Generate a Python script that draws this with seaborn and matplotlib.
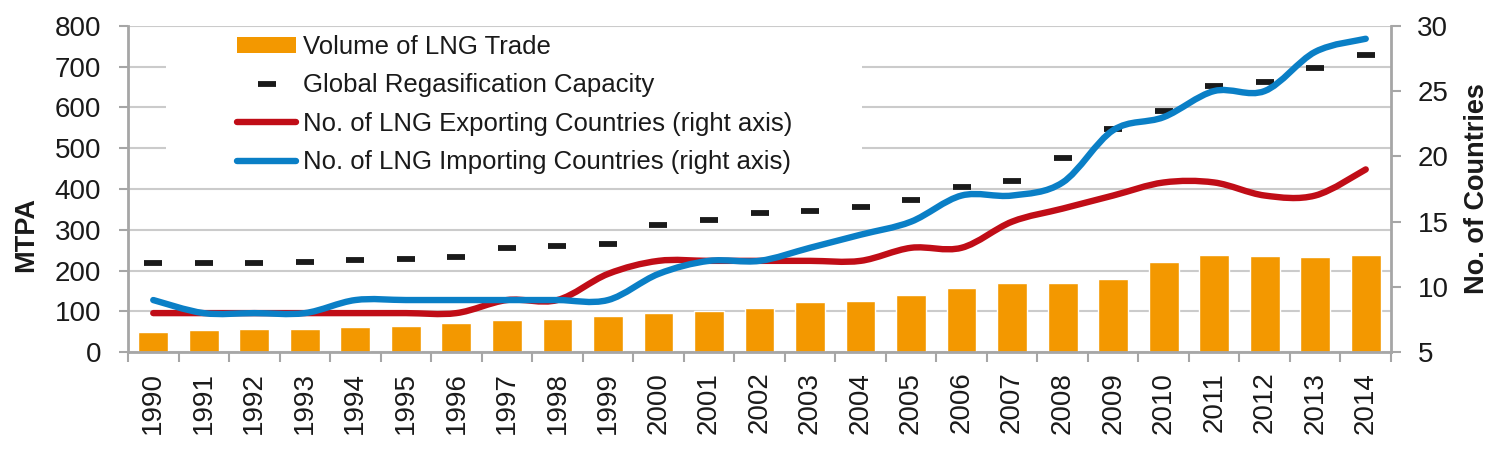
import numpy as np
import pandas as pd
import seaborn as sns
import matplotlib.pyplot as plt
from matplotlib.path import Path
from matplotlib.patches import PathPatch, Patch, Rectangle
from matplotlib.lines import Line2D

# data
years = [str(y) for y in range(1990, 2015)]
lng_trade = [50, 54, 56, 58, 61, 64, 72, 79, 81, 89, 97, 100, 108, 122, 126,
             140, 157, 169, 170, 180, 220, 238, 235, 234, 238]
regas_capacity = [219, 219, 219, 220, 226, 228, 234, 256, 261, 266, 313, 323, 340,
                  346, 356, 374, 406, 420, 476, 548, 590, 652, 662, 697, 728]
exporters = [8, 8, 8, 8, 8, 8, 8, 9, 9, 11, 12, 12, 12, 12, 12, 13, 13, 15, 16,
             17, 18, 18, 17, 17, 19]
importers = [9, 8, 8, 8, 9, 9, 9, 9, 9, 9, 11, 12, 12, 13, 14, 15, 17, 17, 18,
             22, 23, 25, 25, 28, 29]

ORANGE = "#F39800"
RED = "#C00D17"
BLUE = "#0A7FC6"
DARK = "#1A1A1A"
GRAY = "#A6A6A6"
GRID = "#CBCBCB"


def smooth_path(x, y):
    # Excel-like smoothed line: cubic bezier segments through every point
    pts = np.column_stack([x, y]).astype(float)
    n = len(pts)
    verts = [pts[0]]
    codes = [Path.MOVETO]
    for i in range(n - 1):
        p0 = pts[max(i - 1, 0)]
        p1 = pts[i]
        p2 = pts[i + 1]
        p3 = pts[min(i + 2, n - 1)]
        verts += [p1 + (p2 - p0) / 6, p2 - (p3 - p1) / 6, p2]
        codes += [Path.CURVE4] * 3
    return Path(verts, codes)


sns.set_theme(style="white")
plt.rcParams["font.family"] = ["Liberation Sans", "DejaVu Sans"]

df = pd.DataFrame({"Year": years, "Trade": lng_trade, "Regas": regas_capacity})

fig = plt.figure(figsize=(15.05, 4.61), dpi=100)
ax = fig.add_axes([128 / 1505, 1 - 352.3 / 461, (1391 - 128) / 1505,
                   (352.3 - 25.7) / 461])

# Volume of LNG trade (bars)
sns.barplot(data=df, x="Year", y="Trade", color=ORANGE, saturation=1, width=0.59,
            ax=ax, zorder=2)

# Global regasification capacity (dashes)
sns.pointplot(data=df, x="Year", y="Regas", linestyle="none", marker="_",
              markersize=13.5, markeredgewidth=4.2, color=DARK, errorbar=None,
              ax=ax, zorder=3)

ax.set_xlim(-0.5, len(years) - 0.5)
ax.set_ylim(0, 800)
ax.set_yticks(range(0, 801, 100))
ax.yaxis.grid(True, color=GRID, linewidth=1.5)
ax.xaxis.grid(False)
ax.set_axisbelow(True)

ax.set_xticks(range(len(years)))
ax.set_xticklabels(years, rotation=90)
ax.set_xticks(np.arange(-0.5, len(years), 1), minor=True)
ax.tick_params(axis="x", which="major", length=0, pad=14, labelsize=20,
               labelcolor=DARK)
ax.tick_params(axis="x", which="minor", direction="out", length=7, width=1.5,
               color=GRAY, bottom=True)
ax.tick_params(axis="y", direction="out", length=6.5, width=1.5, color=GRAY,
               pad=13, labelsize=20, labelcolor=DARK, left=True)

for side in ["top", "right"]:
    ax.spines[side].set_visible(False)
for side in ["left", "bottom"]:
    ax.spines[side].set_color(GRAY)
    ax.spines[side].set_linewidth(2)

ax.set_xlabel("")
ax.set_ylabel("MTPA", fontsize=19.5, fontweight="bold", color=DARK)
ax.yaxis.set_label_coords(-0.070, 0.36)

# number of countries on the right axis
ax2 = ax.twinx()
ax2.set_ylim(5, 30)
ax2.set_yticks(range(5, 31, 5))
positions = np.arange(len(years))
for values, color in [(exporters, RED), (importers, BLUE)]:
    ax2.add_patch(PathPatch(smooth_path(positions, values), fill=False,
                            edgecolor=color, linewidth=4.6, capstyle="round",
                            zorder=4))

for side in ["top", "left", "bottom"]:
    ax2.spines[side].set_visible(False)
ax2.spines["right"].set_color(GRAY)
ax2.spines["right"].set_linewidth(2)
ax2.tick_params(axis="y", direction="out", length=7, width=1.5, color=GRAY,
                pad=12, labelsize=20, labelcolor=DARK, right=True)
ax2.set_ylabel("No. of Countries", fontsize=19.5, fontweight="bold", color=DARK)
ax2.yaxis.set_label_coords(1.058, 0.5)
ax2.grid(False)

# white block behind the legend (hides the gridlines like the original)
ax2.add_patch(Rectangle((166 / 1505, 1 - 186 / 461), (862 - 166) / 1505,
                        (186 - 30) / 461, transform=fig.transFigure,
                        facecolor="white", edgecolor="none", zorder=1,
                        clip_on=False))

handles = [
    Patch(facecolor=ORANGE, edgecolor="none"),
    Line2D([], [], linestyle="none", marker="_", markersize=13.5,
           markeredgewidth=4.2, color=DARK),
    Line2D([], [], color=RED, linewidth=4.6, solid_capstyle="round"),
    Line2D([], [], color=BLUE, linewidth=4.6, solid_capstyle="round"),
]
labels = [
    "Volume of LNG Trade",
    "Global Regasification Capacity",
    "No. of LNG Exporting Countries (right axis)",
    "No. of LNG Importing Countries (right axis)",
]
leg = ax2.legend(handles, labels, loc="upper left",
                 bbox_to_anchor=(237 / 1505, 1 - 35 / 461),
                 bbox_transform=fig.transFigure, frameon=False, fontsize=18.5,
                 borderpad=0, borderaxespad=0, labelspacing=0.56,
                 handlelength=2.3, handleheight=0.56, handletextpad=0.25)
for t in leg.get_texts():
    t.set_color(DARK)
leg.set_zorder(5)

fig.savefig("out.png", dpi=100)
